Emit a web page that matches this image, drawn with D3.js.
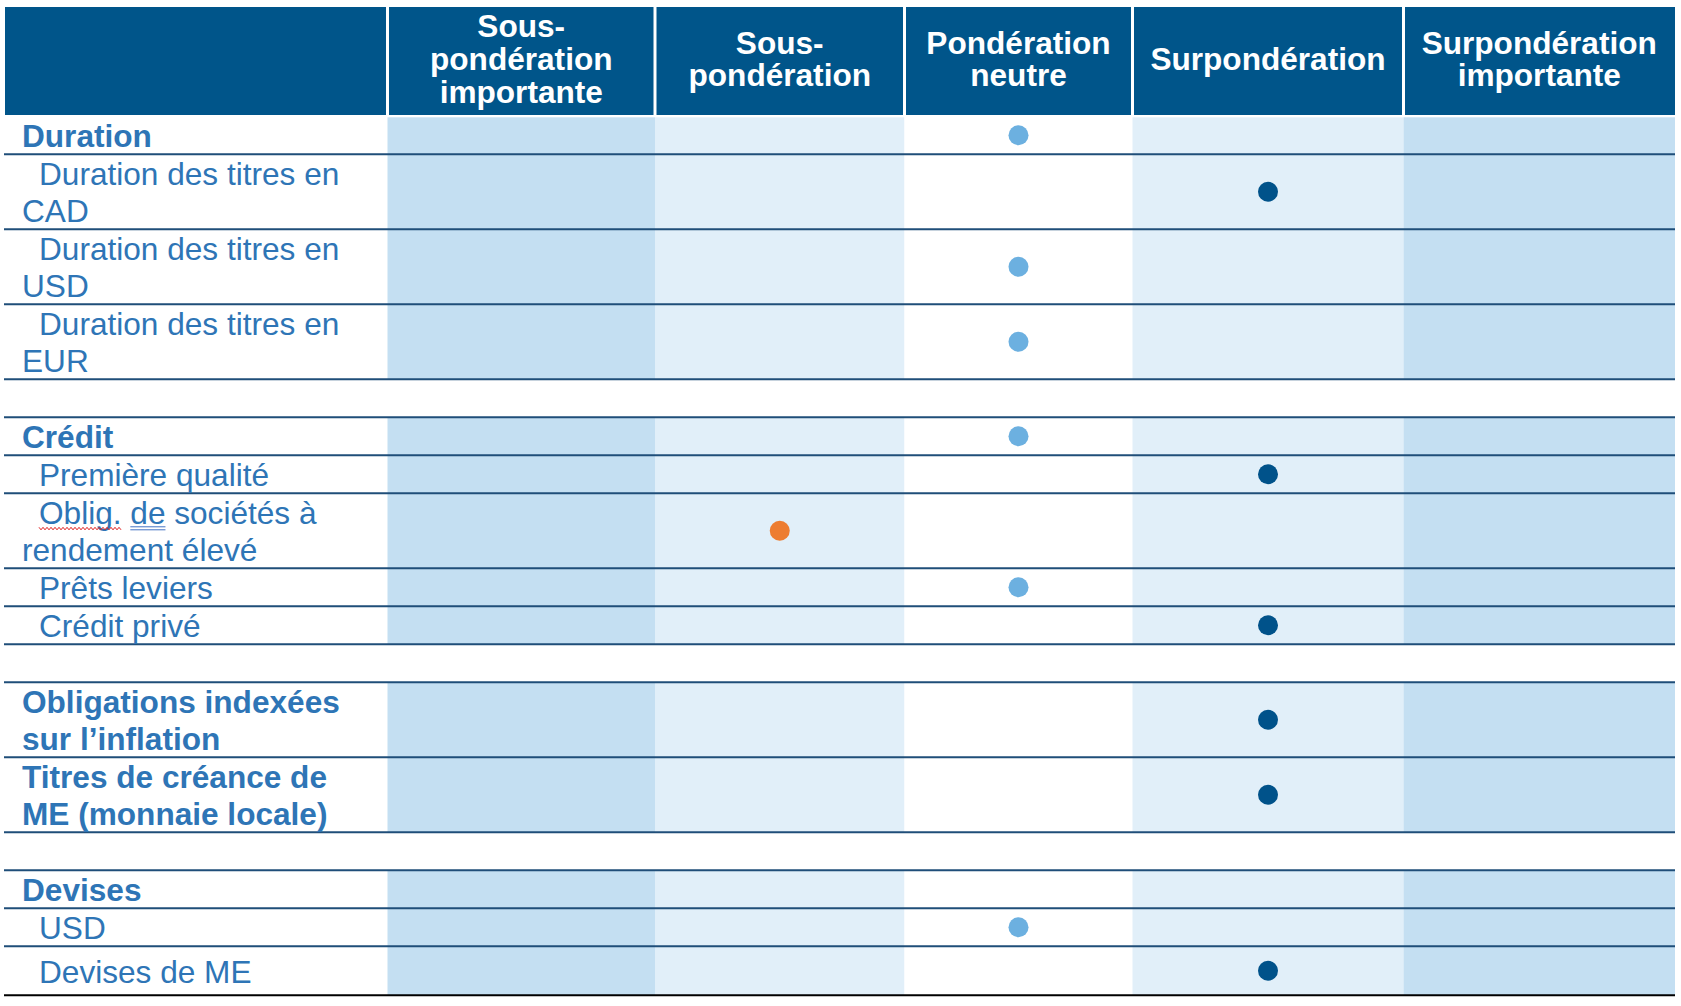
<!DOCTYPE html>
<html lang="fr">
<head>
  <meta charset="utf-8">
  <title>Positionnement - titres à revenu fixe</title>
  <script src="https://cdn.jsdelivr.net/npm/d3@7"></script>
  <style>
    body { margin: 0; background: #ffffff; }
    svg { display: block; }
    text { font-family: "Liberation Sans", Arial, sans-serif; }
  </style>
</head>
<body>
  <div id="chart"></div>
  <script>
    // column headers (one entry per line)
    const headerLabels = [
      [],
      ["Sous-", "pondération", "importante"],
      ["Sous-", "pondération"],
      ["Pondération", "neutre"],
      ["Surpondération"],
      ["Surpondération", "importante"]
    ];

    // row labels, null = blank separator row
    const rowLabels = [
      ["Duration"],
      ["Duration des titres en", "CAD"],
      ["Duration des titres en", "USD"],
      ["Duration des titres en", "EUR"],
      null,
      ["Crédit"],
      ["Première qualité"],
      ["Oblig. de sociétés à", "rendement élevé"],
      ["Prêts leviers"],
      ["Crédit privé"],
      null,
      ["Obligations indexées", "sur l’inflation"],
      ["Titres de créance de", "ME (monnaie locale)"],
      null,
      ["Devises"],
      ["USD"],
      ["Devises de ME"]
    ];

    // true = category heading (bold), false = sub item (indented)
    const rowBold = [true, false, false, false, null, true, false, false, false, false, null, true, true, null, true, false, false];

    // position of the dot: 0 = sous-pondération importante ... 4 = surpondération importante
    const rowView = [2, 3, 2, 2, null, 2, 3, 1, 2, 3, null, 3, 3, null, null, 2, 3];

    const W = 1681, H = 1006;
    const colEdges = [5, 387.5, 655, 904.5, 1132.5, 1403.5, 1675];
    const headTop = 7, headBottom = 115, bodyTop = 116.3;
    const fontSize = 31.6;

    const navy = "#00558a", lineColor = "#1f4e79", textBlue = "#2e75b6";
    const shade = d3.scaleOrdinal().domain([0, 1, 2, 3, 4, 5])
      .range(["#ffffff", "#c4dff2", "#e1eff9", "#ffffff", "#e1eff9", "#c4dff2"]);
    const dotColor = d3.scaleOrdinal().domain([0, 1, 2, 3, 4])
      .range(["#ed7d31", "#ed7d31", "#6cb0e0", "#00528a", "#00528a"]);

    const colLeft = d3.scaleOrdinal().domain(d3.range(6)).range(colEdges.slice(0, 6));
    const colRight = d3.scaleOrdinal().domain(d3.range(6)).range(colEdges.slice(1));

    // row heights: 1 line = 38, 2 lines = 75, last row is taller
    const rowH = rowLabels.map((r, i) => i === rowLabels.length - 1 ? 49 : (r && r.length > 1 ? 75 : 38));
    const rowTops = [];
    rowH.reduce((acc, h) => { rowTops.push(acc); return acc + h; }, bodyTop);
    const rowTop = d3.scaleOrdinal().domain(d3.range(rowLabels.length)).range(rowTops);
    const rowMid = i => rowTop(i) + rowH[i] / 2;

    const svg = d3.select("#chart").append("svg")
      .attr("width", W)
      .attr("height", H);

    // header cells
    const head = svg.append("g");
    head.selectAll("rect")
      .data(headerLabels)
      .enter()
      .append("rect")
      .attr("x", (d, i) => colLeft(i) + (i > 0 ? 1.5 : 0))
      .attr("width", (d, i) => colRight(i) - colLeft(i) - (i > 0 ? 1.5 : 0) - (i < 5 ? 1.5 : 0))
      .attr("y", headTop)
      .attr("height", headBottom - headTop)
      .attr("fill", navy);

    const headMid = (headTop + headBottom) / 2;
    headerLabels.forEach(function (lines, i) {
      const cx = (colLeft(i) + colRight(i)) / 2;
      const t = head.append("text")
        .attr("text-anchor", "middle")
        .attr("fill", "#ffffff")
        .attr("font-weight", "bold")
        .attr("font-size", fontSize);
      lines.forEach(function (l, k) {
        t.append("tspan")
          .attr("x", cx)
          .attr("y", headMid + 9 + (k - (lines.length - 1) / 2) * 32.7)
          .text(l);
      });
    });

    // body shading
    const body = svg.append("g");
    rowLabels.forEach(function (r, i) {
      if (!r) return;
      body.selectAll(null)
        .data(d3.range(1, 6))
        .enter()
        .append("rect")
        .attr("x", c => colLeft(c))
        .attr("width", c => colRight(c) - colLeft(c))
        .attr("y", i === 0 ? bodyTop + 1 : rowTop(i))
        .attr("height", i === 0 ? rowH[i] - 1 : rowH[i])
        .attr("fill", c => shade(c));
    });

    // horizontal rules (top and bottom of every non-blank row)
    const rules = new Set();
    rowLabels.forEach(function (r, i) {
      if (!r) return;
      if (i > 0) rules.add(rowTop(i));
      rules.add(rowTop(i) + rowH[i]);
    });
    const lastY = rowTop(rowLabels.length - 1) + rowH[rowLabels.length - 1];
    svg.append("g").selectAll("line")
      .data(Array.from(rules))
      .enter()
      .append("line")
      .attr("x1", colEdges[0] - 1)
      .attr("x2", colEdges[6])
      .attr("y1", d => d)
      .attr("y2", d => d)
      .attr("stroke", d => d === lastY ? "#000000" : lineColor)
      .attr("stroke-width", 2);

    // row labels
    const labels = svg.append("g");
    rowLabels.forEach(function (lines, i) {
      if (!lines) return;
      const bold = rowBold[i];
      const t = labels.append("text")
        .attr("fill", textBlue)
        .attr("font-size", fontSize)
        .attr("font-weight", bold ? "bold" : "normal");
      lines.forEach(function (l, k) {
        t.append("tspan")
          .attr("x", 22 + (!bold && k === 0 ? 17 : 0))
          .attr("y", rowMid(i) + 12 + (k - (lines.length - 1) / 2) * 37)
          .text(l);
      });

      // spell-check marks under "Oblig." and "de"
      if (lines[0].indexOf("Oblig.") === 0) {
        const first = t.select("tspan").node();
        const x0 = 39, base = rowMid(i) + 12 - 18.5;
        const wOblig = first.getSubStringLength(0, 6);
        const xDe = x0 + first.getSubStringLength(0, 7);
        const wDe = first.getSubStringLength(7, 2);
        const pts = d3.range(x0, x0 + wOblig, 2).map((x, j) => [x, base + 4 + (j % 2 ? 1.5 : -1)]);
        labels.append("path")
          .attr("d", d3.line()(pts))
          .attr("fill", "none")
          .attr("stroke", "#e02020")
          .attr("stroke-width", 1);
        [2.5, 5.5].forEach(function (dy) {
          labels.append("line")
            .attr("x1", xDe).attr("x2", xDe + wDe)
            .attr("y1", base + dy).attr("y2", base + dy)
            .attr("stroke", "#4472c4")
            .attr("stroke-width", 1);
        });
      }
    });

    // dots
    const dots = rowView.map((v, i) => ({ row: i, view: v })).filter(d => d.view !== null);
    svg.append("g").selectAll("circle")
      .data(dots)
      .enter()
      .append("circle")
      .attr("cx", d => (colLeft(d.view + 1) + colRight(d.view + 1)) / 2)
      .attr("cy", d => rowMid(d.row))
      .attr("r", 10)
      .attr("fill", d => dotColor(d.view));
  </script>
</body>
</html>
